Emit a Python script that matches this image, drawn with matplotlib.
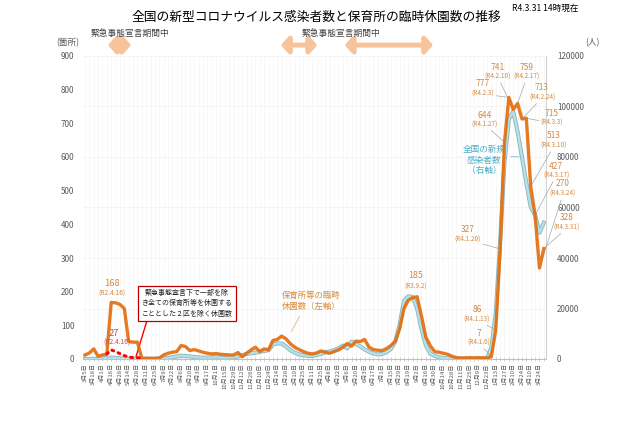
import numpy as np
import matplotlib
matplotlib.use('Agg')
from matplotlib import pyplot as plt
from matplotlib.patches import FancyArrowPatch

plt.rcParams['font.family'] = ['Noto Sans CJK JP', 'DejaVu Sans']

# x tick labels (every second weekly point)
xlabels = ['3月5日', '3月18日', '4月1日', '4月16日', '4月28日', '5月14日', '5月28日',
           '6月11日', '6月25日', '7月9日', '7月22日', '8月6日', '8月20日', '9月3日',
           '9月17日', '10月1日', '10月15日', '10月29日', '11月12日', '11月26日',
           '12月10日', '12月24日', '1月14日', '1月28日', '2月10日', '2月25日',
           '3月11日', '3月25日', '4月8日', '4月22日', '5月6日', '5月20日', '6月3日',
           '6月17日', '7月1日', '7月15日', '7月29日', '8月19日', '9月2日', '9月16日',
           '9月30日', '10月14日', '10月28日', '11月11日', '11月25日', '12月9日',
           '12月23日', '1月13日', '1月27日', '2月10日', '2月24日', '3月10日', '3月24日']

# temporary closures of nursery schools (left axis)
closures = [12, 18, 30, 8, 12, 15, 168, 167, 162, 150, 52, 50, 50, 2,
            2, 2, 2, 3,
            12, 17, 20, 22, 40, 37, 25, 28, 24, 20, 17, 15, 16, 14, 13, 12, 12, 19, 7, 17,
            27, 35, 22, 30, 27, 55, 58, 68, 60, 45, 35, 28, 22, 17, 15, 18, 24, 20, 17, 22,
            27, 35, 46, 38, 53, 52, 58, 35, 28, 26, 25, 31, 40, 52, 90, 150, 175, 182, 185,
            128, 65, 40, 22, 20, 17, 14, 8, 4, 3, 3,
            4, 3, 4, 3, 3,
            7, 86, 327, 644, 777, 741, 759, 713, 715, 513, 427, 270, 328]

# new infections nationwide (right axis)
cases = [30, 40, 60, 100, 200, 400, 500, 450, 300, 200, 100, 50, 40, 40,
         50, 50, 60, 100,
         200, 400, 700, 1000, 1300, 1200, 1000, 800, 600, 500, 500, 600, 600, 600, 500,
         600, 700, 1000, 1500, 2000,
         2300, 2500, 2900, 3200, 3500, 5800, 6200, 6100, 5000, 3500, 2500, 1800, 1500,
         1300, 1200, 1600, 2000, 2700, 3000, 3500, 4200, 5300, 4200, 6900, 6000, 5000,
         3800, 2900, 2200, 1800, 2000, 2700, 4000, 7000, 13500, 23000, 24800, 24500,
         20000, 12000, 5500, 2200, 1200, 700, 400, 250, 150, 120, 100, 120,
         130, 150, 180, 200, 300,
         4500, 18000, 46000, 78000, 95000, 98000, 90000, 80000, 69700, 60300, 57000,
         50000, 54000]

# closures excluding two wards (red dotted), starts at index 5
excl_start = 5
excl_closures = [15, 27, 22, 16, 10, 6, 4, 4, 2]

# state of emergency periods (in point index)
emergency_spans = [(4.6, 11.2), (44.2, 53.8), (58.8, 80.3)]

# labelled points in 2022: index, date
peak_idx = [93, 94, 95, 96, 97, 98, 99, 100, 101, 102, 103, 104, 105]
peak_dates = ['R4.1.6', 'R4.1.13', 'R4.1.20', 'R4.1.27', 'R4.2.3', 'R4.2.10', 'R4.2.17',
              'R4.2.24', 'R4.3.3', 'R4.3.10', 'R4.3.17', 'R4.3.24', 'R4.3.31']
# label positions in pixels (layout only)
peak_pos = [(479, 333), (477, 310), (468, 230), (485, 115), (483, 84), (498, 67),
            (527, 67), (542, 88), (552, 113), (554, 136), (556, 166), (563, 184),
            (567, 218)]

W, H = 640, 426


def fxy(px, py):
    return px / W, 1 - py / H


ORANGE = '#E46C0A'
LBL = '#D6893C'
GRAY = '#595959'
BLUE_TXT = '#4BACC6'

x = np.arange(len(closures))

fig = plt.figure(figsize=(6.4, 4.26), dpi=100)
ax = fig.add_axes([82.8 / W, 67 / H, 463.2 / W, 303 / H])
ax2 = ax.twinx()
ax.set_zorder(ax2.get_zorder() + 1)
ax.patch.set_visible(False)

# blue line with darker rim
ax2.plot(x, cases, color='#93b4bd', lw=3.0, solid_joinstyle='round', zorder=2)
ax2.plot(x, cases, color='#b2e2ea', lw=1.7, solid_joinstyle='round', zorder=3)

ax.plot(x, closures, color=ORANGE, lw=2.4, alpha=0.9, solid_joinstyle='round', zorder=4)
ax.plot(x[excl_start:excl_start + len(excl_closures)], excl_closures, color='#FF0000',
        lw=2.2, linestyle=(0, (0.6, 1.6)), dash_capstyle='round', zorder=5)

ax.set_xlim(-0.5, len(closures) - 0.5)
ax.set_ylim(0, 900)
ax2.set_ylim(0, 120000)
ax.set_yticks(range(0, 901, 100))
ax2.set_yticks(range(0, 120001, 20000))
ax.set_xticks(range(0, len(closures), 2))
ax.set_xticklabels(xlabels, rotation=90, fontsize=4.3, color=GRAY)
ax.set_xticks(range(len(closures)), minor=True)
ax.tick_params(axis='x', which='both', direction='inout', length=3, width=0.5,
               color='#BFBFBF', pad=1.5)
ax.tick_params(axis='y', length=0, labelsize=5.8, labelcolor=GRAY, pad=6)
ax2.tick_params(axis='y', length=0, labelsize=5.8, labelcolor=GRAY, pad=8)

for a in (ax, ax2):
    for s in ('top', 'left'):
        a.spines[s].set_visible(False)
    a.spines['bottom'].set_color('#BFBFBF')
    a.spines['right'].set_color('#D0D0D0')
    a.spines['bottom'].set_linewidth(0.6)
    a.spines['right'].set_linewidth(0.6)

ax2.grid(axis='y', color='#E3E3E3', lw=0.5, linestyle=(0, (1, 1)))
ax2.set_axisbelow(True)
for xi in x:
    ax2.axvline(xi, color='#F4F4F4', lw=0.4, zorder=0)

# title and header texts
fig.text(*fxy(316, 17), '全国の新型コロナウイルス感染者数と保育所の臨時休園数の推移',
         ha='center', va='center', fontsize=9.2)
fig.text(*fxy(545, 8), 'R4.3.31 14時現在', ha='center', va='center', fontsize=6.2)
fig.text(*fxy(68, 43), '(箇所)', ha='center', va='center', fontsize=6.2, color=GRAY)
fig.text(*fxy(592, 43), '(人)', ha='center', va='center', fontsize=6.2, color=GRAY)
fig.text(*fxy(130, 33), '緊急事態宣言期間中', ha='center', va='center', fontsize=6.3,
         color='#404040')
fig.text(*fxy(341, 33), '緊急事態宣言期間中', ha='center', va='center', fontsize=6.3,
         color='#404040')

trans = ax.get_xaxis_transform()
for a, b in emergency_spans:
    arr = FancyArrowPatch((a, 1.036), (b, 1.036), transform=trans,
                          arrowstyle='<|-|>,head_length=0.4,head_width=0.45',
                          mutation_scale=11, lw=3.6, fc='#FAD0AE', ec='#F7C39A',
                          clip_on=False)
    ax.add_patch(arr)

# 2020 peak labels
i168 = 6
ax.annotate(str(closures[i168]), xy=(i168, closures[i168]), xytext=fxy(112, 283),
            textcoords='figure fraction', ha='center', va='center', fontsize=6.8,
            color=LBL)
fig.text(*fxy(112, 294), '(R2.4.16)', ha='center', va='center', fontsize=4.8, color=LBL)
i27 = 6
ax.annotate(str(excl_closures[i27 - excl_start]), xy=(i27, excl_closures[i27 - excl_start]),
            xytext=fxy(114, 333), textcoords='figure fraction', ha='center',
            va='center', fontsize=6.8, color='#C0504D')
fig.text(*fxy(117, 343), '(R2.4.16)', ha='center', va='center', fontsize=4.8,
         color='#C0504D')

i185 = 76
ax.annotate(str(closures[i185]), xy=(i185, closures[i185]), xytext=fxy(416, 275),
            textcoords='figure fraction', ha='center', va='center', fontsize=6.4,
            color=LBL)
fig.text(*fxy(416, 287), '(R3.9.2)', ha='center', va='center', fontsize=4.6, color=LBL)

# box note
ax.annotate('緊急事態宣言下で一部を除\nき全ての保育所等を休園する\nこととした２区を除く休園数',
            xy=(11.7, 8), xytext=fxy(187, 303.5), textcoords='figure fraction',
            ha='center', va='center', fontsize=5.0, linespacing=1.35, color='#262626',
            bbox=dict(boxstyle='square,pad=0.55', fc='white', ec='#C00000', lw=0.9),
            arrowprops=dict(arrowstyle='-', color='#FF0000', lw=1.0,
                            relpos=(0.07, 0.0), shrinkA=0, shrinkB=0))

# series names
ax.annotate('保育所等の臨時\n休園数（左軸）', xy=(47, 75), xytext=fxy(311, 301),
            textcoords='figure fraction', ha='center', va='center', fontsize=6.0,
            linespacing=1.3, color=LBL,
            arrowprops=dict(arrowstyle='-', color='#D9B38C', lw=0.6, relpos=(0.35, 0.0)))
ax2.annotate('全国の新規\n感染者数\n（右軸）', xy=(100, 80000), xytext=fxy(484, 160),
             textcoords='figure fraction', ha='center', va='center', fontsize=6.2,
             linespacing=1.25, color=BLUE_TXT,
             arrowprops=dict(arrowstyle='-', color='#7FB8C8', lw=0.6, relpos=(1.0, 0.62)))

# 2022 weekly labels
for i, d, (px, py) in zip(peak_idx, peak_dates, peak_pos):
    fig.text(*fxy(px, py), str(closures[i]), ha='center', va='center', fontsize=6.0,
             color=LBL)
    ax.annotate('(' + d + ')', xy=(i, closures[i]), xytext=fxy(px, py + 10),
                textcoords='figure fraction', ha='center', va='center', fontsize=4.6,
                color=LBL,
                bbox=dict(boxstyle='square,pad=0.1', fc='none', ec='none'),
                arrowprops=dict(arrowstyle='-', color='#A6A6A6', lw=0.5,
                                shrinkA=1, shrinkB=1))

fig.savefig('out.png', dpi=100)
